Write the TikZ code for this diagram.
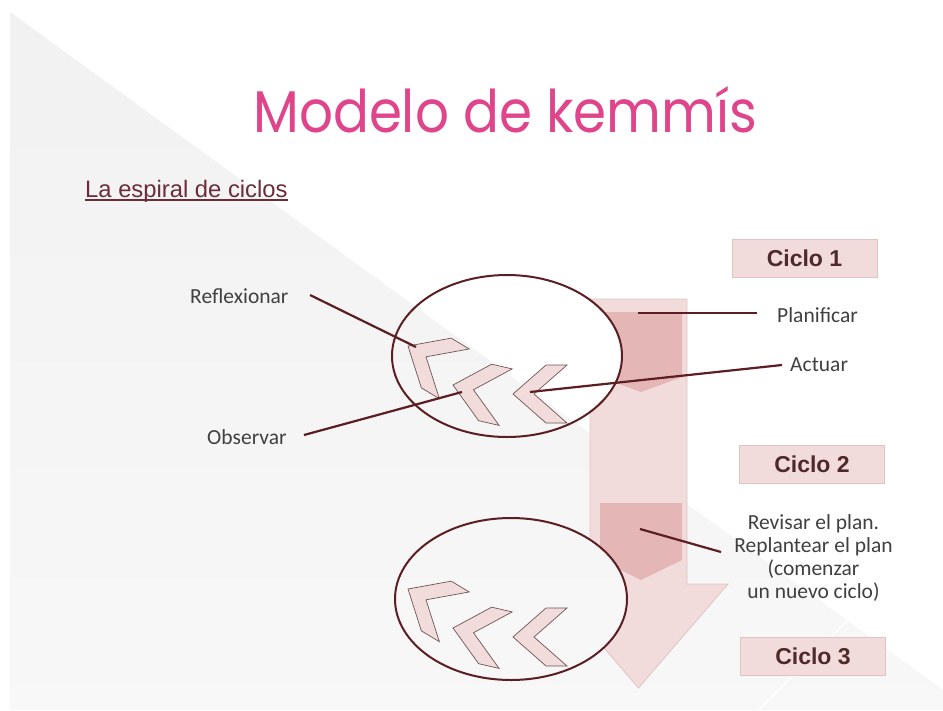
\documentclass[tikz,border=0pt]{standalone}
\usepackage{fontspec}
\setmainfont{Carlito}
\newfontfamily\titlefont{Poppins}
\newfontfamily\arialfont{Liberation Sans}
\usetikzlibrary{calc}
\definecolor{titlefill}{HTML}{E0448B}
\definecolor{lnk}{HTML}{5B1E22}
\definecolor{pinklt}{HTML}{F2DCDB}
\definecolor{pinkdk}{HTML}{E4B7B6}
\definecolor{pinkedge}{HTML}{E0C4C4}
\definecolor{chevedge}{HTML}{6E5555}
\definecolor{bggray}{HTML}{ECECEC}
\definecolor{labelgray}{HTML}{404040}
\definecolor{ciclotxt}{HTML}{4E2A2A}
\definecolor{subtitlecol}{HTML}{6B2D3A}
\newcommand\kemBg{%
  \fill[white] (0,0) rectangle (943,710);
  \begin{scope}
    \clip (10,12) -- (943,690) -- (943,710) -- (10,710) -- cycle;
    \shade[rotate around={-36:(10,710)}, top color=bggray, bottom color=white]
      (-1300,710+30) rectangle (1300,710-610);
  \end{scope}
  \draw[white, line width=2, opacity=0.8] (943,523) -- (759,710);
}
\newcommand\kemChev[3]{\draw[chev, shift={(#1,#2)}, rotate=#3] (0,0) -- (33,-29) -- (54,-29) -- (21,0) -- (54,29) -- (33,29) -- cycle;}
\begin{document}
\begin{tikzpicture}[x=1pt,y=-1pt,
  chev/.style={fill=pinklt, draw=chevedge, line width=0.7},
  conn/.style={draw=lnk, line width=2.2},
  ringline/.style={draw=lnk, line width=2},
  lbl/.style={inner sep=0, text=labelgray, font=\fontsize{21.5}{22.8}\selectfont},
  ciclo/.style={fill=pinklt, draw=pinkedge, line width=0.8, minimum width=145, minimum height=38, inner sep=0,
     text=ciclotxt, font=\arialfont\bfseries\fontsize{23}{26}\selectfont},
  subline/.style={draw=subtitlecol, line width=2}]
\useasboundingbox (0,0) rectangle (943,710);
\kemBg
% big arrow
\path[fill=pinklt, draw=pinkedge, line width=0.8] (590,299) -- (687,299) -- (687,584) -- (728,584) -- (638.5,688) -- (549,584) -- (590,584) -- cycle;
\fill[pinkdk] (600,312) -- (682,312) -- (682,377) -- (641,392) -- (600,377) -- cycle;
\fill[pinkdk] (600,503) -- (682,503) -- (682,560) -- (641,580) -- (600,560) -- cycle;
% ellipses
\begin{scope}\clip (507,356) ellipse[x radius=115, y radius=81]; \kemBg \end{scope}
\begin{scope}\clip (511,599) ellipse[x radius=116, y radius=81]; \kemBg \end{scope}
\draw[ringline] (507,356) ellipse[x radius=115, y radius=81];
\draw[ringline] (511,599) ellipse[x radius=116, y radius=81];
% chevrons
\kemChev{408}{346}{-31}
\kemChev{453}{385}{-13}
\kemChev{513}{394}{0}
\kemChev{408}{589}{-31}
\kemChev{453}{628}{-13}
\kemChev{513}{637}{0}
% title
\node[inner sep=0, anchor=base west] (title) at (253,132) {\resizebox{504pt}{46pt}{\textcolor{titlefill}{\titlefont Modelo de kemmís}}};
\node[inner sep=0, anchor=base west, text=subtitlecol, font=\arialfont\fontsize{23.8}{26}\selectfont] (sub) at (85,197) {La espiral de ciclos};
\draw[subline] ($(sub.base west)+(0,3)$) -- ($(sub.base east)+(0,3)$);
% ciclo boxes
\node[ciclo] (c1) at (804.5,258.5) {Ciclo 1};
\node[ciclo] (c2) at (812,464) {Ciclo 2};
\node[ciclo] (c3) at (813,656) {Ciclo 3};
% labels
\node[lbl, anchor=west] (refl) at (190,296) {Reflexionar};
\node[lbl, anchor=west] (obs) at (207,437) {Observar};
\node[lbl, anchor=west] (plan) at (777,315) {Planificar};
\node[lbl, anchor=west] (act) at (790,365) {Actuar};
\node[lbl, align=center] (rev) at (813.5,558) {Revisar el plan.\\Replantear el plan\\(comenzar\\un nuevo ciclo)};
% connectors
\coordinate (reflS) at (310,295); \coordinate (reflE) at (416,347);
\coordinate (obsS) at (304,435); \coordinate (obsE) at (462,392);
\coordinate (planS) at (757,313); \coordinate (planE) at (638,313);
\coordinate (actS) at (782,365); \coordinate (actE) at (530,392);
\coordinate (revS) at (721,552); \coordinate (revE) at (640,529);
\draw[conn] (reflS) -- (reflE);
\draw[conn] (obsS) -- (obsE);
\draw[conn] (planS) -- (planE);
\draw[conn] (actS) -- (actE);
\draw[conn] (revS) -- (revE);
\end{tikzpicture}
\end{document}
